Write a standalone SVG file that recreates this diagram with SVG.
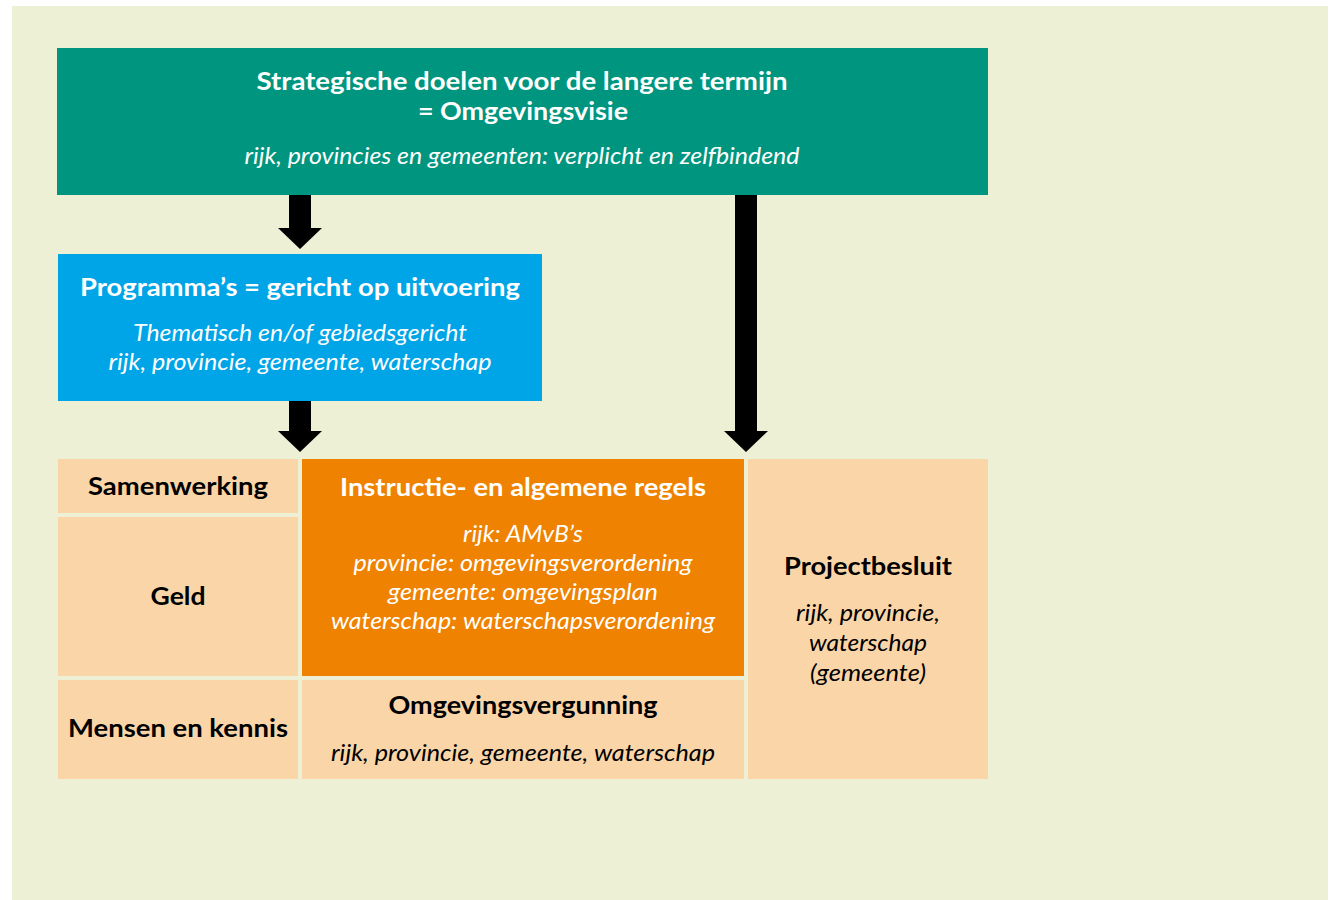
<svg xmlns="http://www.w3.org/2000/svg" width="1330" height="900" viewBox="0 0 1330 900">
<defs>
<style>
.bg{fill:#EDF0D5}
.green{fill:#00957E}
.blue{fill:#00A5E7}
.orange{fill:#EF8200}
.peach{fill:#FAD5A8}
text{font-family:Lato,"Open Sans","Liberation Sans",sans-serif;text-anchor:middle}
.b{font-weight:bold;font-size:24.5px}
.i{font-style:italic;font-size:22.5px}
.w{fill:#FFFFFF}
.k{fill:#000000}
.arrow{fill:#000000}
</style>
</defs>
<rect x="0" y="0" width="1330" height="900" fill="#FFFFFF"/>
<rect class="bg" x="12" y="6" width="1316" height="894"/>

<g id="connectors">
<polygon class="arrow" points="289,195 311,195 311,228 322,228 300,249 278,228 289,228"/>
<polygon class="arrow" points="289,401 311,401 311,431 322,431 300,452 278,431 289,431"/>
<polygon class="arrow" points="735,195 757,195 757,431 768,431 746,452 724,431 735,431"/>
</g>

<g id="omgevingsvisie">
<rect class="green" x="57" y="48" width="931" height="147"/>
<text class="b w" x="522" y="90" textLength="531" lengthAdjust="spacingAndGlyphs">Strategische doelen voor de langere termijn</text>
<text class="b w" x="523" y="120" textLength="210" lengthAdjust="spacingAndGlyphs">= Omgevingsvisie</text>
<text class="i w" x="522" y="164" textLength="555" lengthAdjust="spacingAndGlyphs">rijk, provincies en gemeenten: verplicht en zelfbindend</text>
</g>

<g id="programmas">
<rect class="blue" x="58" y="254" width="484" height="147"/>
<text class="b w" x="300" y="296" textLength="440" lengthAdjust="spacingAndGlyphs">Programma’s = gericht op uitvoering</text>
<text class="i w" x="300" y="341" textLength="334" lengthAdjust="spacingAndGlyphs">Thematisch en/of gebiedsgericht</text>
<text class="i w" x="300" y="370" textLength="383" lengthAdjust="spacingAndGlyphs">rijk, provincie, gemeente, waterschap</text>
</g>

<g id="samenwerking">
<rect class="peach" x="58" y="459" width="240" height="54"/>
<text class="b k" x="178" y="495" textLength="180" lengthAdjust="spacingAndGlyphs">Samenwerking</text>
</g>

<g id="geld">
<rect class="peach" x="58" y="517" width="240" height="159"/>
<text class="b k" x="178" y="605" textLength="55" lengthAdjust="spacingAndGlyphs">Geld</text>
</g>

<g id="mensen">
<rect class="peach" x="58" y="680" width="240" height="99"/>
<text class="b k" x="178" y="737" textLength="220" lengthAdjust="spacingAndGlyphs">Mensen en kennis</text>
</g>

<g id="regels">
<rect class="orange" x="302" y="459" width="442" height="217"/>
<text class="b w" x="523" y="496" textLength="366" lengthAdjust="spacingAndGlyphs">Instructie- en algemene regels</text>
<text class="i w" x="523" y="542" textLength="120" lengthAdjust="spacingAndGlyphs">rijk: AMvB’s</text>
<text class="i w" x="523" y="571" textLength="339" lengthAdjust="spacingAndGlyphs">provincie: omgevingsverordening</text>
<text class="i w" x="523" y="600" textLength="270" lengthAdjust="spacingAndGlyphs">gemeente: omgevingsplan</text>
<text class="i w" x="523" y="629" textLength="384" lengthAdjust="spacingAndGlyphs">waterschap: waterschapsverordening</text>
</g>

<g id="omgevingsvergunning">
<rect class="peach" x="302" y="680" width="442" height="99"/>
<text class="b k" x="523" y="714" textLength="269" lengthAdjust="spacingAndGlyphs">Omgevingsvergunning</text>
<text class="i k" x="523" y="761" textLength="384" lengthAdjust="spacingAndGlyphs">rijk, provincie, gemeente, waterschap</text>
</g>

<g id="projectbesluit">
<rect class="peach" x="748" y="459" width="240" height="320"/>
<text class="b k" x="868" y="575" textLength="168" lengthAdjust="spacingAndGlyphs">Projectbesluit</text>
<text class="i k" x="868" y="621" textLength="144" lengthAdjust="spacingAndGlyphs">rijk, provincie,</text>
<text class="i k" x="868" y="651" textLength="118" lengthAdjust="spacingAndGlyphs">waterschap</text>
<text class="i k" x="868" y="681" textLength="116" lengthAdjust="spacingAndGlyphs">(gemeente)</text>
</g>
</svg>
